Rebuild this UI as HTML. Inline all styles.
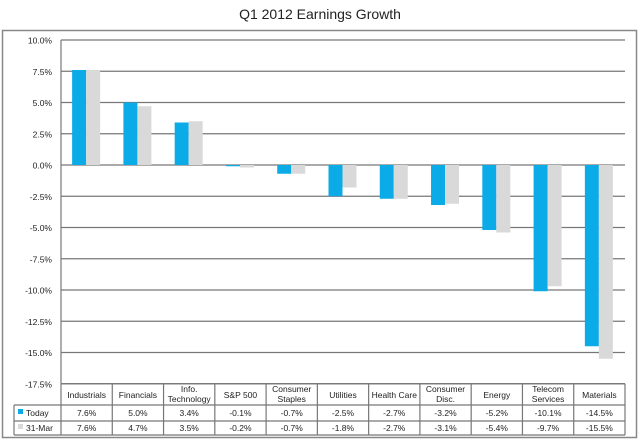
<!DOCTYPE html>
<html><head><meta charset="utf-8"><style>
body{margin:0;background:#fff;font-family:"Liberation Sans",sans-serif}
svg{display:block}
text{font-family:"Liberation Sans",sans-serif;fill:#222}
</style></head><body>
<svg id="c" width="640" height="442">
<text x="320" y="19" text-anchor="middle" font-size="14">Q1 2012 Earnings Growth</text>
<rect x="2.5" y="30.5" width="634" height="407" fill="none" stroke="#888" stroke-width="1.5"/>
<g id="g"></g>
</svg>
<script>
const categories=["Industrials","Financials","Info.|Technology","S&P 500","Consumer|Staples","Utilities","Health Care","Consumer|Disc.","Energy","Telecom|Services","Materials"];
const today=[7.6,5.0,3.4,-0.1,-0.7,-2.5,-2.7,-3.2,-5.2,-10.1,-14.5];
const mar31=[7.6,4.7,3.5,-0.2,-0.7,-1.8,-2.7,-3.1,-5.4,-9.7,-15.5];
const ticks=[10,7.5,5,2.5,0,-2.5,-5,-7.5,-10,-12.5,-15,-17.5];
const NS="http://www.w3.org/2000/svg",g=document.getElementById('g');
const L=61,R=625,T=40,B=383.75,yMax=10,yMin=-17.5;
const y=v=>T+(yMax-v)/(yMax-yMin)*(B-T);
const cw=(R-L)/categories.length;
const cx=i=>L+cw*i+cw/2;
function el(t,a,txt){const e=document.createElementNS(NS,t);for(const k in a)e.setAttribute(k,a[k]);if(txt!=null)e.textContent=txt;g.appendChild(e);return e;}
ticks.forEach(t=>{
 const ln=el('line',{x1:L,x2:R,y1:y(t),y2:y(t),stroke:'#777','stroke-width':1.2});
 
 
 const tx=el('text',{x:52,y:y(t)+3.5,'text-anchor':'end','font-size':8.5},t.toFixed(1)+'%');
 
 
});
el('line',{x1:L,x2:L,y1:T,y2:B,stroke:'#777','stroke-width':1.2});
const bw=14;
categories.forEach((c,i)=>{
 [[today[i],'#0aabe6',-bw],[mar31[i],'#d9d9d9',0]].forEach(([v,col,off],k)=>{
  const y0=y(0),yv=y(v);
  const r=el('rect',{x:cx(i)+off-0.5,y:Math.min(y0,yv),width:bw,height:Math.max(Math.abs(yv-y0),0.8),fill:col});
  
  
 });
});
// table
const rows=[383.75,405,421,435];
const tl=14;
[[L,R,rows[0]],[tl,R,rows[1]],[tl,R,rows[2]],[tl,R,rows[3]]].forEach(([a,b,yy])=>el('line',{x1:a,x2:b,y1:yy,y2:yy,stroke:'#777','stroke-width':1.2}));
el('line',{x1:tl,x2:tl,y1:rows[1],y2:rows[3],stroke:'#777','stroke-width':1.2});
for(let i=0;i<=categories.length;i++)el('line',{x1:L+cw*i,x2:L+cw*i,y1:rows[0],y2:rows[3],stroke:'#777','stroke-width':1.2});
categories.forEach((c,i)=>{
 const parts=c.split('|');
 parts.forEach((p,j)=>{
  const t=el('text',{x:cx(i),y:(parts.length==1?398:392)+j*10,'text-anchor':'middle','font-size':8.5},p);
  
  
 });
 const a=el('text',{x:cx(i),y:416,'text-anchor':'middle','font-size':8.5},today[i].toFixed(1)+'%');
 
 
 const b=el('text',{x:cx(i),y:431,'text-anchor':'middle','font-size':8.5},mar31[i].toFixed(1)+'%');
 
 
});
el('rect',{x:18,y:409,width:5,height:5,fill:'#0aabe6'});
const l1=el('text',{x:26,y:416,'font-size':8.5},'Today');


el('rect',{x:18,y:424,width:5,height:5,fill:'#d9d9d9'});
const l2=el('text',{x:26,y:431,'font-size':8.5},'31-Mar');


</script>
</body></html>
